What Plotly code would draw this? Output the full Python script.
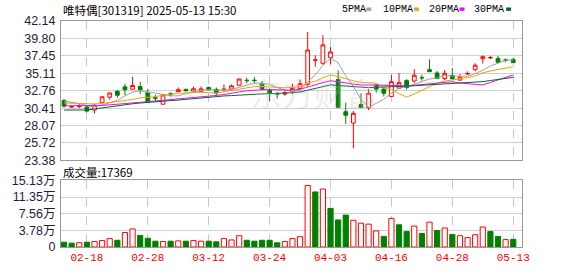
import plotly.graph_objects as go

# ---------------- data ----------------
dates = ["02-13", "02-14", "02-17", "02-18", "02-19", "02-20", "02-21", "02-24", "02-25", "02-26",
         "02-27", "02-28", "03-03", "03-04", "03-05", "03-06", "03-07", "03-10", "03-11", "03-12",
         "03-13", "03-14", "03-17", "03-18", "03-19", "03-20", "03-21", "03-24", "03-25", "03-26",
         "03-27", "03-28", "03-31", "04-01", "04-02", "04-03", "04-07", "04-08", "04-09", "04-10",
         "04-11", "04-14", "04-15", "04-16", "04-17", "04-18", "04-21", "04-22", "04-23", "04-24",
         "04-25", "04-28", "04-29", "04-30", "05-06", "05-07", "05-08", "05-09", "05-12", "05-13"]

opens = [31.46, 30.55, 30.62, 30.58, 30.15, 31.15, 31.89, 32.67, 33.28, 32.97,
         33.32, 32.54, 31.80, 30.94, 32.34, 32.63, 32.93, 32.67, 32.67, 33.19,
         32.93, 32.90, 32.97, 33.49, 34.17, 34.17, 33.71, 32.84, 32.34, 32.30,
         32.63, 33.06, 33.62, 36.85, 36.45, 37.19, 34.27, 29.93, 28.41, 30.89,
         30.45, 33.54, 32.97, 31.98, 33.10, 34.14, 34.06, 34.52, 35.58, 35.14,
         34.40, 34.80, 34.19, 35.00, 35.58, 37.06, 37.17, 37.10, 36.90, 36.97]
highs = [31.60, 30.75, 30.95, 30.80, 30.90, 32.00, 32.50, 32.84, 33.71, 34.63,
         33.97, 33.02, 32.20, 32.30, 32.60, 33.20, 33.05, 33.30, 33.35, 33.30,
         33.19, 33.60, 33.60, 34.40, 34.50, 34.58, 34.05, 33.06, 32.60, 32.75,
         33.71, 34.27, 40.66, 37.53, 40.22, 38.62, 35.50, 31.15, 30.02, 32.41,
         32.97, 33.60, 33.10, 34.92, 35.14, 34.30, 35.66, 34.90, 36.97, 35.40,
         35.55, 35.80, 35.00, 35.35, 36.45, 37.50, 37.45, 37.45, 37.10, 37.15]
lows = [30.50, 30.45, 30.40, 29.84, 29.70, 31.10, 31.54, 31.80, 32.15, 32.90,
        32.32, 31.11, 31.30, 30.90, 31.95, 32.60, 32.60, 32.60, 32.60, 32.80,
        32.10, 32.67, 32.80, 33.40, 33.75, 33.72, 32.80, 31.37, 31.70, 32.10,
        32.30, 32.90, 33.28, 36.00, 36.23, 36.32, 30.49, 28.28, 25.00, 30.45,
        30.15, 32.50, 31.98, 31.90, 33.00, 32.90, 33.75, 34.10, 35.30, 34.30,
        34.20, 34.30, 34.10, 34.95, 35.40, 36.41, 37.00, 36.50, 36.60, 36.50]
closes = [30.68, 30.62, 30.70, 30.02, 30.81, 31.93, 32.45, 32.15, 32.89, 33.45,
          32.89, 31.24, 31.74, 32.19, 32.30, 32.89, 32.76, 33.02, 33.00, 32.89,
          32.45, 32.96, 33.41, 34.32, 34.12, 34.12, 32.93, 32.45, 32.30, 32.45,
          33.06, 33.71, 38.23, 36.90, 38.92, 37.97, 30.49, 29.45, 29.71, 30.49,
          32.41, 32.97, 32.41, 33.97, 33.84, 33.19, 34.84, 34.49, 35.32, 34.40,
          35.10, 34.36, 34.58, 35.07, 36.19, 37.34, 37.22, 36.58, 36.86, 36.54]

ma5 = [31.37, 31.20, 31.03, 30.75, 30.57, 30.82, 31.18, 31.47, 32.05, 32.57,
       32.77, 32.52, 32.44, 32.30, 32.07, 32.07, 32.38, 32.63, 32.79, 32.91,
       32.82, 32.86, 32.94, 33.21, 33.45, 33.79, 33.78, 33.59, 33.18, 32.85,
       32.64, 32.79, 33.95, 34.87, 36.16, 37.15, 36.50, 34.75, 33.31, 31.62,
       30.51, 31.01, 31.60, 32.45, 33.12, 33.28, 33.65, 34.07, 34.34, 34.45,
       34.83, 34.73, 34.75, 34.70, 35.06, 35.51, 36.08, 36.48, 36.84, 36.91]
ma10 = [31.10, 31.05, 31.00, 30.97, 30.98, 31.07, 31.15, 31.28, 31.46, 31.57,
        31.79, 31.85, 31.96, 32.17, 32.32, 32.42, 32.45, 32.54, 32.55, 32.49,
        32.45, 32.62, 32.79, 33.00, 33.18, 33.31, 33.32, 33.27, 33.20, 33.15,
        33.21, 33.29, 33.77, 34.03, 34.51, 34.89, 34.65, 34.35, 34.09, 33.89,
        33.83, 33.75, 33.17, 32.88, 32.37, 31.89, 32.33, 32.83, 33.39, 33.78,
        34.05, 34.19, 34.41, 34.52, 34.75, 35.17, 35.41, 35.62, 35.77, 35.98]
ma20 = [30.72, 30.72, 30.72, 30.70, 30.72, 30.78, 30.85, 30.92, 31.00, 31.08,
        31.20, 31.28, 31.38, 31.46, 31.55, 31.63, 31.72, 31.80, 31.90, 32.03,
        32.12, 32.24, 32.37, 32.59, 32.75, 32.86, 32.89, 32.90, 32.87, 32.82,
        32.83, 32.95, 33.28, 33.51, 33.84, 34.10, 33.99, 33.81, 33.64, 33.52,
        33.52, 33.52, 33.47, 33.45, 33.44, 33.39, 33.49, 33.59, 33.74, 33.84,
        33.94, 33.97, 33.79, 33.70, 33.56, 33.53, 33.87, 34.22, 34.58, 34.88]
ma30 = [30.15, 30.15, 30.15, 30.17, 30.30, 30.45, 30.60, 30.75, 30.90, 31.00,
        31.10, 31.20, 31.27, 31.35, 31.42, 31.50, 31.60, 31.70, 31.85, 31.95,
        32.00, 32.05, 32.10, 32.18, 32.25, 32.30, 32.33, 32.36, 32.38, 32.40,
        32.48, 32.59, 32.84, 33.07, 33.34, 33.54, 33.47, 33.38, 33.28, 33.18,
        33.16, 33.22, 33.24, 33.30, 33.35, 33.36, 33.43, 33.48, 33.56, 33.61,
        33.70, 33.74, 33.78, 33.81, 33.88, 33.98, 34.13, 34.27, 34.42, 34.55]

volumes = [11000, 8800, 9800, 11000, 12400, 14600, 19000, 15300, 32900, 41000,
           26300, 19700, 13200, 12400, 13200, 13900, 13200, 14600, 13200, 13200,
           11700, 19000, 16000, 25600, 15300, 13200, 15300, 15300, 9500, 12400,
           19000, 23400, 139700, 125000, 131600, 87700, 61400, 72400, 60700, 54100,
           51900, 36600, 24100, 65000, 50400, 35000, 47500, 30700, 56300, 37300,
           43200, 28500, 25600, 21300, 27800, 45400, 35000, 24100, 16800, 17369]
vol_up = [0, 0, 1, 0, 1, 1, 1, 0, 1, 1,
          0, 0, 0, 1, 0, 1, 0, 1, 1, 0,
          0, 1, 1, 1, 0, 0, 0, 0, 0, 1,
          1, 1, 1, 0, 1, 0, 0, 0, 1, 1,
          1, 1, 0, 1, 0, 0, 1, 0, 1, 0,
          1, 0, 1, 1, 1, 1, 0, 0, 1, 0]

price_ticks = [23.38, 25.72, 28.07, 30.41, 32.76, 35.11, 37.45, 39.80, 42.14]
vol_ticks = [0, 37825, 75650, 113475, 151300]
vol_tick_text = ["0", "3.78万", "7.56万", "11.35万", "15.13万"]
date_ticks = ["02-18", "02-28", "03-12", "03-24", "04-03", "04-16", "04-28", "05-13"]

title_text = "唯特偶[301319] 2025-05-13 15:30"
vol_title = "成交量:17369"
ma_names = ["5PMA", "10PMA", "20PMA", "30PMA"]

# ---------------- styling ----------------
RED = "#ff0000"
GREEN = "#008000"
MA_COLORS = ["#a0a0a0", "#f2a100", "#ff00ff", "#006a2a"]
GRID = "#d0d0d0"
BORDER = "#999999"
LABEL = "#1e1e3c"

W, H = 578, 276
L, R, T, B = 57, 56, 21, 21
PW, PH = W - L - R, H - T - B


def px(x):
    return (x - L) / PW


def py(y):
    return (H - B - y) / PH


fig = go.Figure()

fig.add_trace(go.Candlestick(
    x=dates, open=opens, high=highs, low=lows, close=closes,
    increasing=dict(line=dict(color=RED, width=1), fillcolor="#ffffff"),
    decreasing=dict(line=dict(color=GREEN, width=1), fillcolor=GREEN),
    whiskerwidth=0, xaxis="x", yaxis="y", showlegend=False, hoverinfo="skip"))

for name, vals, col in zip(ma_names, [ma5, ma10, ma20, ma30], MA_COLORS):
    fig.add_trace(go.Scatter(x=dates, y=vals, mode="lines", name=name,
                             line=dict(color=col, width=1), xaxis="x", yaxis="y",
                             showlegend=False, hoverinfo="skip"))

fig.add_trace(go.Bar(
    x=dates, y=volumes, xaxis="x2", yaxis="y2", showlegend=False, hoverinfo="skip",
    marker=dict(color=["#ffffff" if u else GREEN for u in vol_up],
                line=dict(color=[RED if u else GREEN for u in vol_up], width=1))))

n = len(dates)
xr = [-0.4, n + 0.15]

fig.update_layout(
    width=W, height=H, margin=dict(l=L, r=R, t=T, b=B),
    paper_bgcolor="#ffffff", plot_bgcolor="#ffffff",
    bargap=0.32, showlegend=False,
    xaxis=dict(type="category", domain=[0, 1], anchor="y", range=xr,
               categoryorder="array", categoryarray=dates,
               tickvals=date_ticks, showticklabels=False, ticks="",
               showgrid=True, gridcolor="#c8c8c8", griddash="dash", gridwidth=1,
               showline=True, mirror=True, linecolor=BORDER, linewidth=1,
               rangeslider=dict(visible=False), zeroline=False, fixedrange=True),
    xaxis2=dict(type="category", domain=[0, 1], anchor="y2", matches="x", range=xr,
                categoryorder="array", categoryarray=dates,
                tickvals=date_ticks, ticktext=date_ticks, ticks="",
                tickfont=dict(family="Liberation Mono, DejaVu Sans Mono", size=11, color=RED),
                showgrid=True, gridcolor="#c8c8c8", griddash="dash", gridwidth=1,
                showline=True, mirror=True, linecolor=BORDER, linewidth=1,
                zeroline=False),
    yaxis=dict(domain=[py(165.3), 1], anchor="x", range=[price_ticks[0], price_ticks[-1]],
               tickvals=price_ticks, ticktext=["%.2f" % v for v in price_ticks], ticks="",
               tickfont=dict(family="Liberation Sans, Arial", size=12.5, color=LABEL),
               showgrid=True, gridcolor=GRID, gridwidth=1,
               showline=True, mirror=True, linecolor=BORDER, linewidth=1,
               zeroline=False, ticklabelstandoff=2),
    yaxis2=dict(domain=[0, py(186)], anchor="x2", range=[0, vol_ticks[-1]],
                tickvals=vol_ticks, ticktext=vol_tick_text, ticks="",
                tickfont=dict(family="Liberation Sans, Noto Sans CJK SC", size=12.5, color=LABEL),
                showgrid=True, gridcolor=GRID, gridwidth=1,
                showline=True, mirror=True, linecolor=BORDER, linewidth=1,
                zeroline=False, ticklabelstandoff=2),
)

ann = []
ann.append(dict(text=title_text, x=px(57), y=py(10), xref="paper", yref="paper",
                xanchor="left", yanchor="middle", showarrow=False,
                font=dict(family="Noto Sans CJK SC", size=11.5, color="#000000")))
ann.append(dict(text=vol_title, x=px(57), y=py(177), xref="paper", yref="paper",
                xanchor="left", yanchor="middle", showarrow=False,
                font=dict(family="Noto Sans CJK SC", size=11.5, color="#000000")))
ann.append(dict(text="东方财富", x=px(312), y=py(95), xref="paper", yref="paper",
                xanchor="center", yanchor="middle", showarrow=False,
                font=dict(family="Noto Sans CJK SC", size=32, color="rgba(190,190,190,0.28)")))

legend_text_x = [338, 380, 426, 472]
legend_box_x = [365, 413, 459, 506]
shapes = []
for name, tx, bx, col in zip(ma_names, legend_text_x, legend_box_x, MA_COLORS):
    ann.append(dict(text=name, x=px(tx), y=py(9), xref="paper", yref="paper",
                    xanchor="left", yanchor="middle", showarrow=False,
                    font=dict(family="Liberation Mono, Courier New", size=10, color="#000000")))
    shapes.append(dict(type="rect", xref="paper", yref="paper",
                       x0=px(bx), x1=px(bx + 5), y0=py(10.5), y1=py(7),
                       fillcolor=col, line=dict(width=0)))

fig.update_layout(annotations=ann, shapes=shapes)

fig.write_html("out.html")
